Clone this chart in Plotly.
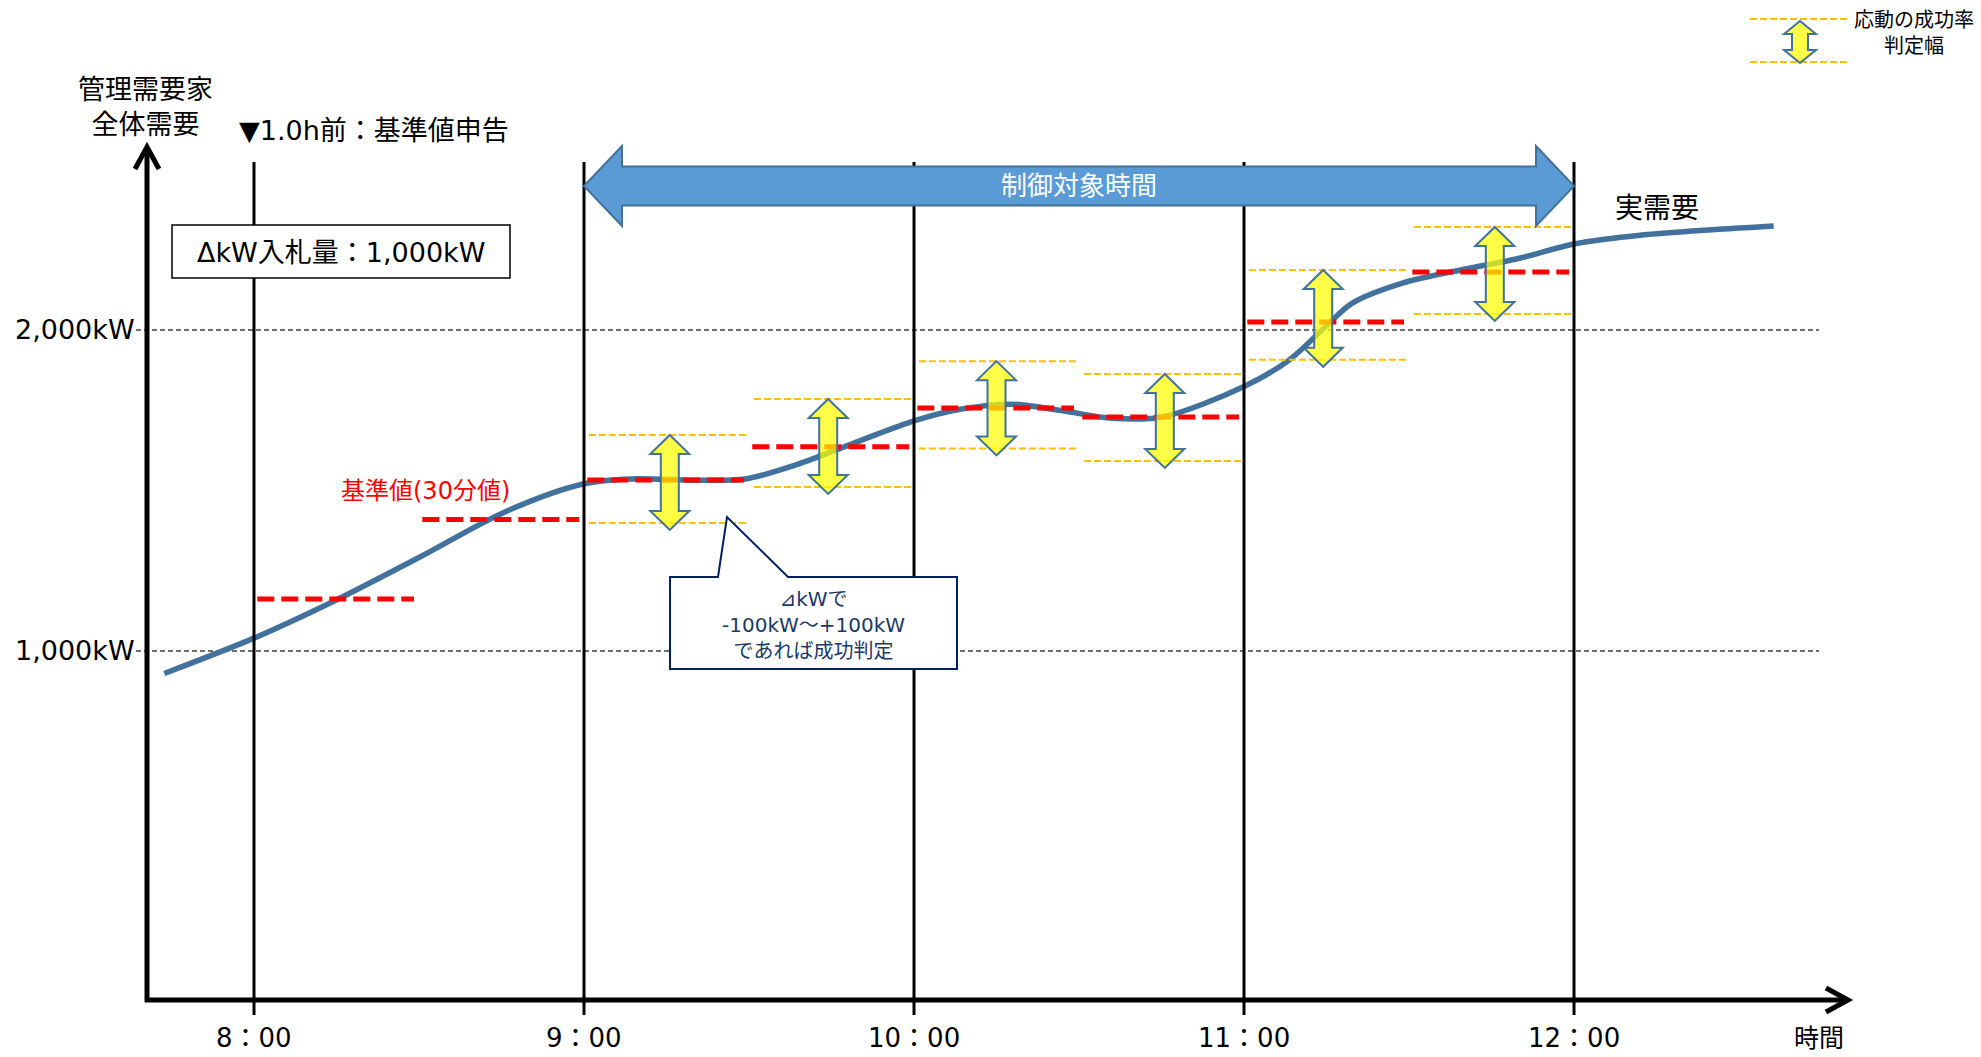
import plotly.graph_objects as go

# ---------------- data ----------------
hour_ticks = [8, 9, 10, 11, 12]
hour_labels = ["8：00", "9：00", "10：00", "11：00", "12：00"]
kw_ticks = [1000, 2000]
kw_labels = ["1,000kW", "2,000kW"]

# actual demand curve (hours, kW)
demand_t = [7.728, 8.0, 8.226, 8.494, 8.762, 9.0, 9.145, 9.336, 9.489, 9.642, 9.834,
            10.0, 10.14, 10.293, 10.446, 10.6, 10.753, 11.0, 11.136, 11.25, 11.327,
            11.48, 11.671, 11.825, 12.0, 12.207, 12.605]
demand_kw = [930, 1040, 1147, 1288, 1434, 1521, 1536, 1532, 1536, 1580, 1654,
             1717, 1753, 1769, 1749, 1725, 1729, 1824, 1906, 2013, 2083,
             2146, 2190, 2221, 2268, 2296, 2324]

# 30-minute baseline values
slot_start = [8.0, 8.5, 9.0, 9.5, 10.0, 10.5, 11.0, 11.5]
baseline_kw = [1162, 1410, 1533, 1636, 1757, 1729, 2025, 2181]

# success-judgement bands (control period)
band_start = [9.0, 9.5, 10.0, 10.5, 11.0, 11.5]
band_upper = [1673, 1785, 1903, 1863, 2187, 2321]
band_lower = [1399, 1511, 1631, 1592, 1907, 2050]
arrow_t = [9.26, 9.74, 10.25, 10.76, 11.24, 11.76]

control_start, control_end = 9.0, 12.0

# ---------------- layout geometry ----------------
W, H = 1981, 1057
X_RANGE = [7.2303, 13.2333]
Y_RANGE = [-264.8, 3028.0]
FONT = "DejaVu Sans, Noto Sans CJK JP"


def hx(px):  # pixel width -> hours
    return px * (X_RANGE[1] - X_RANGE[0]) / W


def ky(px):  # pixel height -> kW
    return px * (Y_RANGE[1] - Y_RANGE[0]) / H


def path(pts):
    return "M " + " L ".join(f"{x:.5f},{y:.5f}" for x, y in pts) + " Z"


fig = go.Figure()

# curve
fig.add_trace(go.Scatter(x=demand_t, y=demand_kw, mode="lines",
                         line=dict(color="#41719C", width=5.5, shape="spline", smoothing=0.9),
                         hoverinfo="skip"))

# orange bands
bx, by = [], []
for s, u, l in zip(band_start, band_upper, band_lower):
    bx += [s + 0.015, s + 0.497, None, s + 0.015, s + 0.497, None]
    by += [u, u, None, l, l, None]
fig.add_trace(go.Scatter(x=bx, y=by, mode="lines", connectgaps=False,
                         line=dict(color="#FFC000", width=2, dash="7px,3px"),
                         hoverinfo="skip"))

# red baselines
rx, ry = [], []
for s, b in zip(slot_start, baseline_kw):
    rx += [s + 0.01, s + 0.485, None]
    ry += [b, b, None]
fig.add_trace(go.Scatter(x=rx, y=ry, mode="lines", connectgaps=False,
                         line=dict(color="#FF0000", width=5, dash="17px,7px"),
                         hoverinfo="skip"))

# dummy trace for pixel axes
fig.add_trace(go.Scatter(x=[0], y=[0], xaxis="x2", yaxis="y2", mode="markers",
                         marker=dict(size=1, color="rgba(0,0,0,0)"), hoverinfo="skip"))

shapes = []
# gridlines
for v in kw_ticks:
    shapes.append(dict(type="line", xref="x2", yref="y", x0=136, x1=1819, y0=v, y1=v,
                       line=dict(color="#404040", width=1.3, dash="5px,3px"), layer="below"))
# hour lines
for h in hour_ticks:
    shapes.append(dict(type="line", xref="x", yref="y2", x0=h, x1=h, y0=162, y1=1015,
                       line=dict(color="black", width=3), layer="above"))
# axes
shapes.append(dict(type="line", xref="x2", yref="y2", x0=147, x1=147, y0=1002, y1=148,
                   line=dict(color="black", width=5), layer="above"))
shapes.append(dict(type="path", xref="x2", yref="y2", path="M 135,169 L 147,147 L 159,169",
                   line=dict(color="black", width=5), layer="above"))
shapes.append(dict(type="line", xref="x2", yref="y2", x0=145, x1=1848, y0=1000, y1=1000,
                   line=dict(color="black", width=5), layer="above"))
shapes.append(dict(type="path", xref="x2", yref="y2", path="M 1826,988 L 1848,1000 L 1826,1012",
                   line=dict(color="black", width=5), layer="above"))

# yellow double arrows
hw, sw, hl = hx(19.5), hx(9), ky(19)
over = ky(7)
for c, u, l in zip(arrow_t, band_upper, band_lower):
    top, bot = u, l - over
    pts = [(c, top), (c + hw, top - hl), (c + sw, top - hl), (c + sw, bot + hl),
           (c + hw, bot + hl), (c, bot), (c - hw, bot + hl), (c - sw, bot + hl),
           (c - sw, top - hl), (c - hw, top - hl)]
    shapes.append(dict(type="path", xref="x", yref="y", path=path(pts),
                       fillcolor="rgba(255,255,0,0.72)", line=dict(color="#41719C", width=2),
                       layer="above"))

# blue control-period arrow (y in pixels)
ah = hx(38)
yc = 186
pts = [(control_start, yc), (control_start + ah, yc - 40), (control_start + ah, yc - 19.5),
       (control_end - ah, yc - 19.5), (control_end - ah, yc - 40), (control_end, yc),
       (control_end - ah, yc + 40), (control_end - ah, yc + 19.5),
       (control_start + ah, yc + 19.5), (control_start + ah, yc + 40)]
shapes.append(dict(type="path", xref="x", yref="y2", path=path(pts),
                   fillcolor="#5B9BD5", line=dict(color="#41719C", width=2), layer="above"))

# ΔkW box
shapes.append(dict(type="rect", xref="x2", yref="y2", x0=172, x1=510, y0=225, y1=278,
                   fillcolor="white", line=dict(color="black", width=1.5), layer="above"))

# callout
shapes.append(dict(type="path", xref="x2", yref="y2",
                   path="M 670,577 L 718,577 L 727,517 L 788,577 L 957,577 L 957,669 L 670,669 Z",
                   fillcolor="white", line=dict(color="#002060", width=2), layer="above"))

# legend sample
for yy in (19, 62):
    shapes.append(dict(type="line", xref="x2", yref="y2", x0=1750, x1=1847, y0=yy, y1=yy,
                       line=dict(color="#FFC000", width=2, dash="7px,3px"), layer="above"))
lc = 1800
lpts = [(lc, 21), (lc + 16, 34), (lc + 8, 34), (lc + 8, 50), (lc + 16, 50), (lc, 63),
        (lc - 16, 50), (lc - 8, 50), (lc - 8, 34), (lc - 16, 34)]
shapes.append(dict(type="path", xref="x2", yref="y2", path=path(lpts),
                   fillcolor="rgba(255,255,0,0.72)", line=dict(color="#41719C", width=2),
                   layer="above"))

annotations = []


def note(text, x, y, size, color="black", xref="x2", yref="y2", xanchor="center"):
    annotations.append(dict(text=text, x=x, y=y, xref=xref, yref=yref, showarrow=False,
                            xanchor=xanchor, yanchor="middle", borderpad=0,
                            font=dict(family=FONT, size=size, color=color)))


note("管理需要家<br>全体需要", 145, 107, 27)
note("▼1.0h前：基準値申告", 238, 130, 27, xanchor="left")
note("ΔkW入札量：1,000kW", 341, 252, 27)
note("制御対象時間", 1079, 186, 26, color="white")
note("実需要", 1657, 208, 28)
note("基準値(30分値)", 425, 491, 24, color="#FF0000")
note("⊿kWで<br>-100kW～+100kW<br>であれば成功判定", 813, 625, 20, color="#203864")
note("応動の成功率<br>判定幅", 1914, 33, 20)
note("時間", 1819, 1038, 25)
for h, lab in zip(hour_ticks, hour_labels):
    note(lab, h, 1038, 26, xref="x")
for v, lab in zip(kw_ticks, kw_labels):
    note(lab, 136, v, 27, yref="y", xanchor="right")

fig.update_layout(
    width=W, height=H, margin=dict(l=0, r=0, t=0, b=0, pad=0),
    paper_bgcolor="white", plot_bgcolor="white", showlegend=False,
    xaxis=dict(range=X_RANGE, visible=False, fixedrange=True),
    yaxis=dict(range=Y_RANGE, visible=False, fixedrange=True),
    xaxis2=dict(range=[0, W], visible=False, overlaying="x", fixedrange=True),
    yaxis2=dict(range=[H, 0], visible=False, overlaying="y", fixedrange=True),
    shapes=shapes, annotations=annotations, hovermode=False,
)

fig.write_html("out.html", config={"displayModeBar": False})
